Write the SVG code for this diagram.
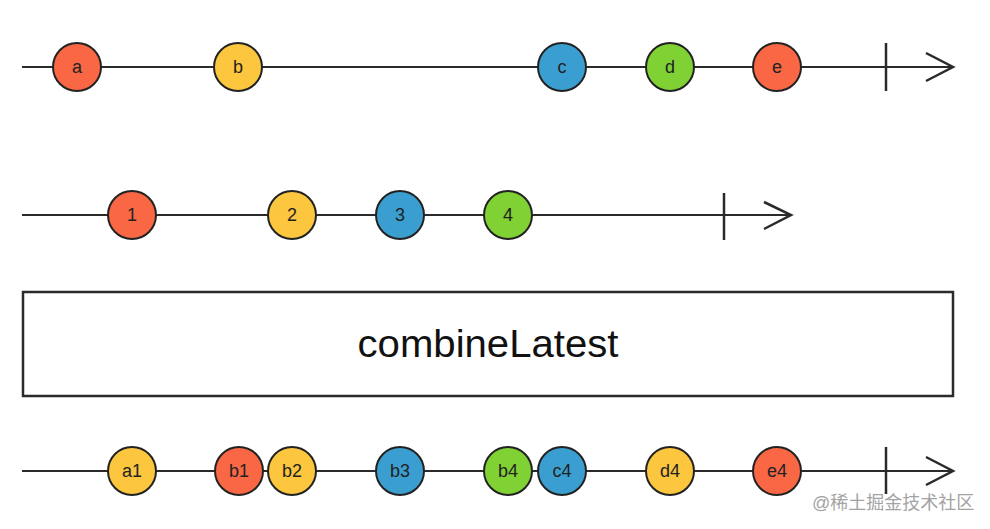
<svg xmlns="http://www.w3.org/2000/svg" width="990" height="529" viewBox="0 0 990 529">
<style>
.ln{stroke:#2a2a2a;stroke-width:2;fill:none}
.mk{stroke:#2a2a2a;stroke-width:2.5;fill:none}
.ev{stroke:#222;stroke-width:2}
.r{fill:#f96745}.y{fill:#fcc63e}.b{fill:#3a9fd0}.g{fill:#80d234}
.lb{font-family:"Liberation Sans",Arial,sans-serif;font-size:18px;fill:#222;text-anchor:middle;dominant-baseline:central}
.op{font-family:"Liberation Sans",Arial,sans-serif;font-size:38px;fill:#111;text-anchor:middle}
.wm{font-family:"Liberation Sans","Noto Sans CJK SC",sans-serif;font-size:18px;fill:#a3a3a3;stroke:#fff;stroke-width:0.6;paint-order:stroke}
</style>
<rect width="990" height="529" fill="#fff"/>
<g id="connectors">
<line class="ln" x1="22" y1="67" x2="953" y2="67"/>
<line class="mk" x1="886" y1="43" x2="886" y2="91"/>
<polyline class="mk" points="926,53 953,67 926,81"/>
<line class="ln" x1="22" y1="215" x2="791" y2="215"/>
<line class="mk" x1="724" y1="193" x2="724" y2="240"/>
<polyline class="mk" points="764,202 791,215 764,229"/>
<line class="ln" x1="22" y1="471" x2="953" y2="471"/>
<line class="mk" x1="886" y1="447" x2="886" y2="494"/>
<polyline class="mk" points="926,457 953,471 926,485"/>
</g>
<g id="ev-a"><circle class="ev r" cx="77" cy="67" r="24"/><text class="lb" x="77" y="67">a</text></g>
<g id="ev-b"><circle class="ev y" cx="238" cy="67" r="24"/><text class="lb" x="238" y="67">b</text></g>
<g id="ev-c"><circle class="ev b" cx="562" cy="67" r="24"/><text class="lb" x="562" y="67">c</text></g>
<g id="ev-d"><circle class="ev g" cx="670" cy="67" r="24"/><text class="lb" x="670" y="67">d</text></g>
<g id="ev-e"><circle class="ev r" cx="777" cy="67" r="24"/><text class="lb" x="777" y="67">e</text></g>
<g id="ev-1"><circle class="ev r" cx="132" cy="215" r="24"/><text class="lb" x="132" y="215">1</text></g>
<g id="ev-2"><circle class="ev y" cx="292" cy="215" r="24"/><text class="lb" x="292" y="215">2</text></g>
<g id="ev-3"><circle class="ev b" cx="400" cy="215" r="24"/><text class="lb" x="400" y="215">3</text></g>
<g id="ev-4"><circle class="ev g" cx="508" cy="215" r="24"/><text class="lb" x="508" y="215">4</text></g>
<g id="operator"><rect x="23" y="292" width="930" height="104" fill="#fff" stroke="#2a2a2a" stroke-width="2.5"/><text class="op" x="488" y="357" textLength="261" lengthAdjust="spacingAndGlyphs">combineLatest</text></g>
<g id="ev-a1"><circle class="ev y" cx="132" cy="471" r="24"/><text class="lb" x="132" y="471">a1</text></g>
<g id="ev-b1"><circle class="ev r" cx="239" cy="471" r="24"/><text class="lb" x="239" y="471">b1</text></g>
<g id="ev-b2"><circle class="ev y" cx="292" cy="471" r="24"/><text class="lb" x="292" y="471">b2</text></g>
<g id="ev-b3"><circle class="ev b" cx="400" cy="471" r="24"/><text class="lb" x="400" y="471">b3</text></g>
<g id="ev-b4"><circle class="ev g" cx="508" cy="471" r="24"/><text class="lb" x="508" y="471">b4</text></g>
<g id="ev-c4"><circle class="ev b" cx="562" cy="471" r="24"/><text class="lb" x="562" y="471">c4</text></g>
<g id="ev-d4"><circle class="ev y" cx="670" cy="471" r="24"/><text class="lb" x="670" y="471">d4</text></g>
<g id="ev-e4"><circle class="ev r" cx="777" cy="471" r="24"/><text class="lb" x="777" y="471">e4</text></g>
<text class="wm" x="812" y="509">@稀土掘金技术社区</text>
</svg>
